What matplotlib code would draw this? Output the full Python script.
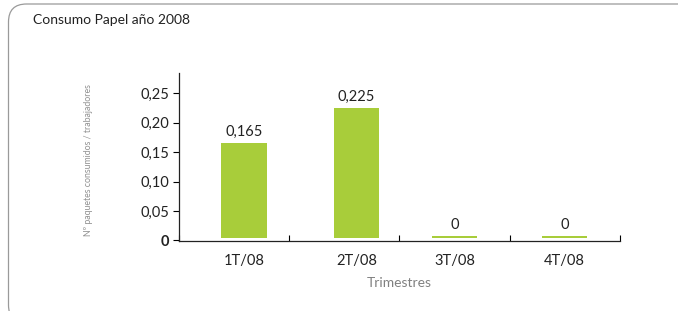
import matplotlib.pyplot as plt
from matplotlib.patches import FancyBboxPatch

trimestres = ['1T/08', '2T/08', '3T/08', '4T/08']
paquetes = [0.165, 0.225, 0.0, 0.0]
etiquetas = ['0,165', '0,225', '0', '0']
y_ticks = [0, 0.05, 0.10, 0.15, 0.20, 0.25]
y_tick_labels = ['0', '0,05', '0,10', '0,15', '0,20', '0,25']

plt.rcParams['font.family'] = ['Lato', 'DejaVu Sans']

fig = plt.figure(figsize=(6.78, 3.11), dpi=100)

# marco redondeado (coordenadas en pixeles)
bg = fig.add_axes([0, 0, 1, 1], zorder=-1)
bg.set_xlim(0, 678)
bg.set_ylim(0, 311)
bg.axis('off')
bg.add_patch(FancyBboxPatch((8.5, -12), 700, 319, boxstyle='round,pad=0,rounding_size=18',
                            facecolor='none', edgecolor='#9a9a9a', linewidth=0.9))

fig.text(0.049, 0.935, 'Consumo Papel año 2008', fontsize=10, color='#222222', va='center')

ax = fig.add_axes([0.264, 0.225, 0.65, 0.54])
ax.patch.set_alpha(0)
x = list(range(len(trimestres)))
# los dos primeros grupos aparecen algo desplazados a la derecha en el original
desplaz = [0.09, 0.11, 0.0, 0.0]
xpos = [xi + d for xi, d in zip(x, desplaz)]
base = 0.0045
tops = [max(v, base + 0.0035) for v in paquetes]
ax.bar(xpos, [t - base for t in tops], width=0.41, bottom=base, color='#a8cd3a')
for xp, t, lab in zip(xpos, tops, etiquetas):
    ax.text(xp, t + 0.007, lab, ha='center', va='bottom', fontsize=10.5, color='#222222')

ax.set_xlim(-0.5, 3.5)
ax.set_ylim(-0.001, 0.284)
ax.set_xticks([-0.5, 0.5, 1.5, 2.5, 3.5])
ax.set_xticklabels([])
ax.set_xticks(xpos, minor=True)
ax.set_xticklabels(trimestres, minor=True, fontsize=10.5, color='#222222')
ax.tick_params(axis='x', which='minor', length=0, pad=9)
ax.tick_params(axis='x', which='major', length=4, direction='in', width=0.8)
ax.set_yticks(y_ticks)
ax.set_yticklabels(y_tick_labels, fontsize=10.5, color='#222222')
ax.get_yticklabels()[0].set_fontweight('bold')
ax.tick_params(axis='y', length=4, direction='out', width=0.8, pad=3)
for s in ['top', 'right']:
    ax.spines[s].set_visible(False)
for s in ['left', 'bottom']:
    ax.spines[s].set_linewidth(0.9)
    ax.spines[s].set_color('#222222')

ax.set_xlabel('Trimestres', fontsize=10, color='#808080', labelpad=7)
fig.text(0.13, 0.485, 'Nº paquetes consumidos / trabajadores', rotation=90, fontsize=6.3,
         color='#909090', ha='center', va='center')

fig.savefig('out.png', dpi=100)
